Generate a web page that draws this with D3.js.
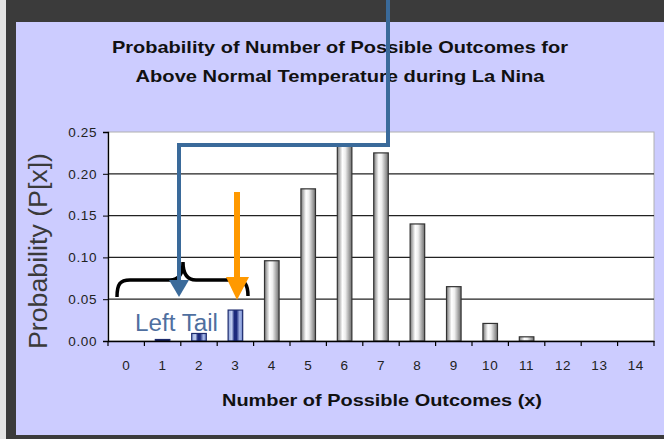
<!DOCTYPE html>
<html>
<head>
<meta charset="utf-8">
<script src="https://cdn.jsdelivr.net/npm/d3@7"></script>
<style>
  body { margin: 0; background: #ffffff; }
  svg { display: block; font-family: Arial, "Liberation Sans", sans-serif; }
</style>
</head>
<body>
<div id="chart"></div>
<script>
const outcomes = [0, 1, 2, 3, 4, 5, 6, 7, 8, 9, 10, 11, 12, 13, 14];
const probs = [0, 0.001, 0.009, 0.037, 0.096, 0.182, 0.235, 0.225, 0.140, 0.065, 0.021, 0.005, 0, 0, 0];
const tailSet = [1, 2, 3];
const yTicks = [0, 0.05, 0.10, 0.15, 0.20, 0.25];
const titleLines = ["Probability of Number of Possible Outcomes for", "Above Normal Temperature during La Nina"];

const W = 664, H = 439;
const plot = { left: 108, right: 654, top: 132, bottom: 341 };

const svg = d3.select("#chart").append("svg")
  .attr("width", W).attr("height", H);

// slide frame
svg.append("rect").attr("width", W).attr("height", H).attr("fill", "#e4e4e4");
svg.append("rect").attr("x", 6).attr("y", 0).attr("width", W - 6).attr("height", H).attr("fill", "#3b3b3b");
svg.append("rect").attr("x", 16).attr("y", 22).attr("width", W - 16).attr("height", 413).attr("fill", "#ccccff");

const defs = svg.append("defs");
const gray = defs.append("linearGradient").attr("id", "gray");
[["0%", "#7a7a7a"], ["35%", "#ffffff"], ["55%", "#eeeeee"], ["100%", "#6e6e6e"]]
  .forEach(s => gray.append("stop").attr("offset", s[0]).attr("stop-color", s[1]));
const blue = defs.append("linearGradient").attr("id", "blue");
[["0%", "#8ea4dc"], ["25%", "#c4d0f0"], ["42%", "#1c2a7c"], ["58%", "#1c2a7c"], ["80%", "#a8b8e8"], ["100%", "#6f88cc"]]
  .forEach(s => blue.append("stop").attr("offset", s[0]).attr("stop-color", s[1]));

const x = d3.scaleBand().domain(outcomes).range([plot.left, plot.right]).padding(0);
const y = d3.scaleLinear().domain([0, 0.25]).range([plot.bottom, plot.top]);
const bw = x.bandwidth() * 0.4;

// plot area
svg.append("rect")
  .attr("x", plot.left).attr("y", plot.top)
  .attr("width", plot.right - plot.left).attr("height", plot.bottom - plot.top)
  .attr("fill", "#ffffff").attr("stroke", "#b0b0b0").attr("stroke-width", 1);

// gridlines
svg.append("g").selectAll("line")
  .data(yTicks.filter(d => d > 0 && d < 0.25))
  .join("line")
  .attr("x1", plot.left).attr("x2", plot.right)
  .attr("y1", d => y(d)).attr("y2", d => y(d))
  .attr("stroke", "#222").attr("stroke-width", 1.3);

// bars
svg.append("g").selectAll("rect")
  .data(outcomes.map((c, i) => ({ c, v: probs[i] })).filter(d => d.v > 0))
  .join("rect")
  .attr("x", d => x(d.c) + (x.bandwidth() - bw) / 2)
  .attr("y", d => Math.min(y(d.v), plot.bottom - 1.5))
  .attr("width", bw)
  .attr("height", d => Math.max(plot.bottom - y(d.v), 1.5))
  .attr("fill", d => d.c === 1 ? "#000" : tailSet.includes(d.c) ? "url(#blue)" : "url(#gray)")
  .attr("stroke", d => tailSet.includes(d.c) ? "#1c2a6c" : "#333")
  .attr("stroke-width", 1.2);

// y axis
const yAxis = svg.append("g")
  .attr("transform", `translate(${plot.left},0)`)
  .call(d3.axisLeft(y).tickValues(yTicks).tickFormat(d3.format(".2f")).tickSize(5).tickPadding(6));
yAxis.attr("font-size", null).attr("font-family", null);
yAxis.select(".domain").attr("stroke", "#000").attr("stroke-width", 1.3);
yAxis.selectAll("text").style("font-size", "13.5px").attr("fill", "#222").attr("letter-spacing", 0.6);

// x axis
const xAxis = svg.append("g")
  .attr("transform", `translate(0,${plot.bottom})`)
  .call(d3.axisBottom(x).tickSize(0).tickPadding(19));
xAxis.attr("font-size", null).attr("font-family", null);
xAxis.select(".domain").attr("stroke", "#000").attr("stroke-width", 1.3);
xAxis.selectAll("text").style("font-size", "13.5px").attr("fill", "#222").attr("letter-spacing", 0.6);
svg.append("g").selectAll("line")
  .data(outcomes.map(c => x(c)).concat([plot.right]))
  .join("line")
  .attr("x1", d => d).attr("x2", d => d)
  .attr("y1", plot.bottom).attr("y2", plot.bottom + 5)
  .attr("stroke", "#000").attr("stroke-width", 1.2);

// titles
const titleWidths = [456, 409];
svg.append("g").selectAll("text")
  .data(titleLines)
  .join("text")
  .attr("x", 340).attr("y", (d, i) => 53 + i * 29)
  .attr("text-anchor", "middle")
  .attr("font-size", 17).attr("font-weight", "bold").attr("fill", "#111")
  .attr("textLength", (d, i) => titleWidths[i]).attr("lengthAdjust", "spacingAndGlyphs")
  .text(d => d);

svg.append("text")
  .attr("x", 382).attr("y", 406)
  .attr("text-anchor", "middle")
  .attr("font-size", 17).attr("font-weight", "bold").attr("fill", "#111")
  .attr("textLength", 320).attr("lengthAdjust", "spacingAndGlyphs")
  .text("Number of Possible Outcomes (x)");

svg.append("text")
  .attr("transform", "translate(47,251) rotate(-90)")
  .attr("text-anchor", "middle")
  .attr("font-size", 25).attr("fill", "#3a3a3a")
  .attr("textLength", 196).attr("lengthAdjust", "spacingAndGlyphs")
  .text("Probability (P[x])");

// annotations
svg.append("path")
  .attr("d", "M117,297 C117,284 120,280 130,280 L170,280 C178,280 183,275 183,262 C183,275 188,280 196,280 L236,280 C245,280 248,285 248,296")
  .attr("fill", "none").attr("stroke", "#000").attr("stroke-width", 3.5);

svg.append("text")
  .attr("x", 135).attr("y", 331)
  .attr("font-size", 23).attr("fill", "#4f6f9f")
  .attr("textLength", 83).attr("lengthAdjust", "spacingAndGlyphs")
  .text("Left Tail");

svg.append("path")
  .attr("d", "M237,192 V280")
  .attr("stroke", "#ff9900").attr("stroke-width", 6).attr("fill", "none");
svg.append("path")
  .attr("d", "M226,277 L249,277 L237,300 Z")
  .attr("fill", "#ff9900");

svg.append("path")
  .attr("d", "M388,0 V145 H179 V282")
  .attr("stroke", "#3a6a9a").attr("stroke-width", 4).attr("fill", "none");
svg.append("path")
  .attr("d", "M169,280 L189,280 L179,297 Z")
  .attr("fill", "#3a6a9a");
</script>
</body>
</html>
